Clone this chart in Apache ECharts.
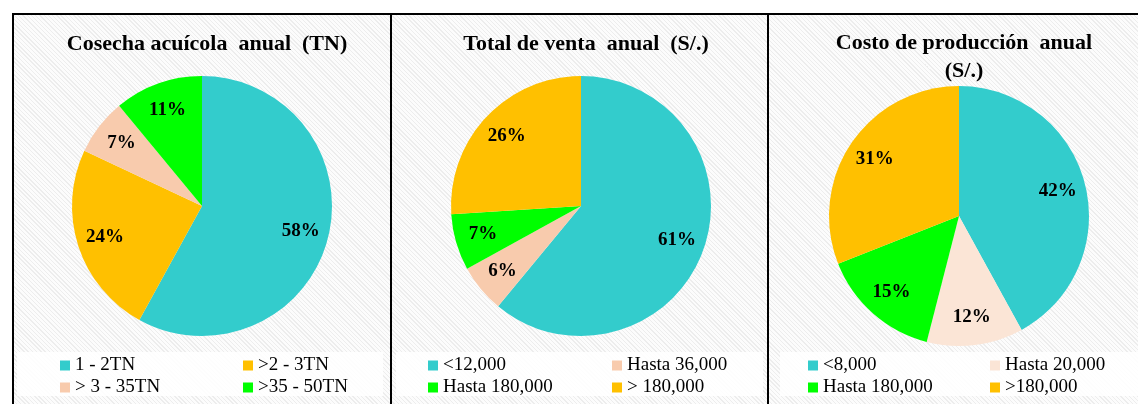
<!DOCTYPE html>
<html>
<head>
<meta charset="utf-8">
<script src="https://cdn.jsdelivr.net/npm/echarts@6/dist/echarts.min.js"></script>
<style>
  body { margin: 0; background: #fff; }
  .bg { position: absolute; left: 12px; top: 13px; width: 1126px; height: 391px;
        background: repeating-linear-gradient(45deg, #ededed 0px, #ededed 1px, #fcfcfc 1px, #fcfcfc 3px); }
  .chart { position: absolute; top: 0; height: 404px; }
  .line { position: absolute; background: #000; }
</style>
</head>
<body>
<div class="bg"></div>
<div id="c1" class="chart" style="left:0;width:391px"></div>
<div id="c2" class="chart" style="left:391px;width:377px"></div>
<div id="c3" class="chart" style="left:768px;width:370px"></div>
<div class="line" style="left:12px;top:13px;width:1126px;height:2px"></div>
<div class="line" style="left:12px;top:13px;width:2px;height:391px"></div>
<div class="line" style="left:390px;top:13px;width:2px;height:391px"></div>
<div class="line" style="left:767px;top:13px;width:2px;height:391px"></div>
<script>
  // datos
  const cosechaNames = ['1 - 2TN', '>2 - 3TN', '> 3 - 35TN', '>35 - 50TN'];
  const cosechaValues = [58, 24, 7, 11];
  const cosechaColors = ['#33CCCC', '#FFC000', '#F8CBAD', '#00FF00'];

  const ventaNames = ['<12,000', 'Hasta 36,000', 'Hasta 180,000', '> 180,000'];
  const ventaValues = [61, 6, 7, 26];
  const ventaColors = ['#33CCCC', '#F8CBAD', '#00FF00', '#FFC000'];

  const costoNames = ['<8,000', 'Hasta 20,000', 'Hasta 180,000', '>180,000'];
  const costoValues = [42, 12, 15, 31];
  const costoColors = ['#33CCCC', '#FBE5D6', '#00FF00', '#FFC000'];

  const serif = '"Liberation Serif", "Times New Roman", serif';

  function drawPie(id, title, names, values, colors, cfg) {
    let chart = echarts.init(document.getElementById(id));
    let data = names.map((n, i) => ({ name: n, value: values[i], itemStyle: { color: colors[i] } }));
    let R = 130;
    let legendBase = {
      orient: 'vertical', top: 356, itemGap: 3, padding: 0,
      itemWidth: 10, itemHeight: 10, icon: 'rect',
      textStyle: { fontFamily: serif, fontSize: 19, color: '#000' }
    };
    let option = {
      animation: false,
      title: {
        text: title,
        left: cfg.cx,
        top: cfg.titleTop,
        textAlign: 'center',
        textStyle: { fontFamily: serif, fontWeight: 'bold', fontSize: 22, color: '#000', lineHeight: 28 }
      },
      graphic: [{
        type: 'rect',
        shape: { x: cfg.legBox[0], y: 352, width: cfg.legBox[1], height: 44 },
        style: { fill: 'rgba(255,255,255,0.85)' },
        z: 0
      }],
      legend: [
        Object.assign({}, legendBase, { left: cfg.leg1, data: [names[0], names[2]] }),
        Object.assign({}, legendBase, { left: cfg.leg2, data: [names[1], names[3]] })
      ],
      series: [
        {
          type: 'pie',
          center: [cfg.cx, cfg.cy],
          radius: [0, R],
          startAngle: 90,
          clockwise: true,
          label: { show: false },
          labelLine: { show: false },
          data: data
        },
        {
          // anillo invisible solo para ubicar las etiquetas
          type: 'pie',
          silent: true,
          center: [cfg.cx, cfg.cy],
          radius: [68, R],
          startAngle: 90,
          clockwise: true,
          itemStyle: { color: 'rgba(0,0,0,0)' },
          label: {
            show: true, position: 'inside', formatter: '{c}%',
            fontFamily: serif, fontWeight: 'bold', fontSize: 19, color: '#000'
          },
          labelLine: { show: false },
          data: names.map((n, i) => ({ name: n, value: values[i] }))
        }
      ]
    };
    chart.setOption(option);
  }

  drawPie('c1', 'Cosecha acuícola  anual  (TN)', cosechaNames, cosechaValues, cosechaColors,
    { cx: 202, cy: 206, titleTop: 25, leg1: 60, leg2: 243, legBox: [17, 366] });
  drawPie('c2', 'Total de venta  anual  (S/.)', ventaNames, ventaValues, ventaColors,
    { cx: 190, cy: 206, titleTop: 25, leg1: 37, leg2: 221, legBox: [5, 367] });
  drawPie('c3', 'Costo de producción  anual\n(S/.)', costoNames, costoValues, costoColors,
    { cx: 191, cy: 216, titleTop: 24, leg1: 40, leg2: 222, legBox: [12, 358] });
</script>
</body>
</html>
